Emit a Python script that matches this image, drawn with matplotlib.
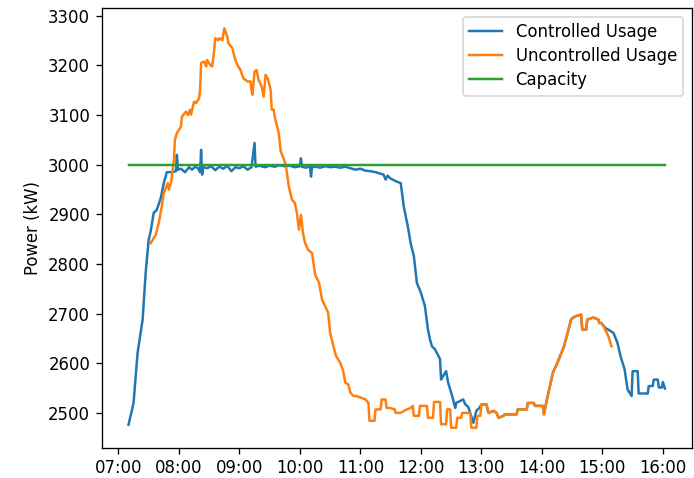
import matplotlib
matplotlib.use('Agg')
import matplotlib.pyplot as plt
import matplotlib.dates as mdates
import pandas as pd

# Controlled usage (kW)
ctrl_times = ['07:10', '07:15', '07:19', '07:24', '07:27', '07:30', '07:32', '07:35', '07:38',
              '07:42', '07:45', '07:48', '07:53', '07:57', '07:58', '07:59', '08:02', '08:06',
              '08:10', '08:13', '08:16', '08:19', '08:21', '08:22', '08:23', '08:24', '08:28',
              '08:32', '08:36', '08:40', '08:44', '08:48', '08:52', '08:56', '09:00', '09:04',
              '09:08', '09:12', '09:15', '09:16', '09:20', '09:25', '09:30', '09:35', '09:40',
              '09:45', '09:50', '09:55', '10:00', '10:01', '10:02', '10:06', '10:10', '10:11',
              '10:12', '10:16', '10:20', '10:25', '10:30', '10:35', '10:40', '10:45', '10:50',
              '10:55', '11:00', '11:05', '11:10', '11:15', '11:20', '11:23', '11:25', '11:27',
              '11:30', '11:36', '11:40', '11:43', '11:47', '11:50', '11:53', '11:56', '12:00',
              '12:04', '12:07', '12:09', '12:11', '12:14', '12:19', '12:20', '12:22', '12:25',
              '12:27', '12:31', '12:34', '12:35', '12:42', '12:44', '12:47', '12:52', '12:55',
              '12:58', '13:00', '13:05', '13:07', '13:12', '13:15', '13:17', '13:22', '13:23',
              '13:35', '13:36', '13:45', '13:46', '13:52', '13:53', '14:01', '14:02', '14:05',
              '14:08', '14:11', '14:16', '14:22', '14:26', '14:29', '14:31', '14:34', '14:39',
              '14:40', '14:44', '14:45', '14:51', '14:56', '14:57', '14:59', '15:03', '15:08',
              '15:11', '15:13', '15:15', '15:18', '15:22', '15:25', '15:29', '15:30', '15:35',
              '15:36', '15:45', '15:46', '15:50', '15:51', '15:55', '15:56', '15:59', '16:00',
              '16:02']
ctrl_kw = [2476, 2520, 2621, 2688, 2782, 2849, 2866, 2903, 2909,
           2933, 2963, 2985, 2985, 2987, 3020, 2990, 2992, 2985,
           2995, 2990, 2996, 2993, 2985, 3030, 2980, 2995, 2993,
           2997, 2989, 2996, 2992, 2998, 2987, 2995, 2993, 2997,
           2990, 2995, 3044, 2996, 2998, 2995, 2998, 2996, 2999,
           2997, 2998, 2995, 2997, 3013, 2996, 2994, 2997, 2976,
           2995, 2996, 2994, 2997, 2995, 2996, 2994, 2996, 2993,
           2990, 2992, 2988, 2987, 2985, 2982, 2980, 2970, 2978,
           2972, 2966, 2963, 2916, 2876, 2840, 2816, 2762, 2742,
           2715, 2668, 2648, 2634, 2628, 2608, 2567, 2574, 2584,
           2561, 2534, 2510, 2520, 2527, 2517, 2512, 2480, 2504,
           2510, 2517, 2517, 2500, 2504, 2500, 2490, 2494, 2497,
           2497, 2507, 2507, 2520, 2520, 2514, 2514, 2497, 2527,
           2554, 2581, 2604, 2634, 2665, 2688, 2692, 2695, 2698,
           2668, 2668, 2688, 2692, 2688, 2681, 2681, 2671, 2665,
           2661, 2651, 2641, 2614, 2588, 2547, 2534, 2584, 2584,
           2539, 2539, 2554, 2554, 2567, 2567, 2551, 2551, 2562,
           2549]

# Uncontrolled usage (kW)
unc_times = ['07:32', '07:37', '07:40', '07:43', '07:45', '07:49', '07:50', '07:52', '07:53',
             '07:55', '07:56', '07:58', '08:00', '08:02', '08:03', '08:07', '08:09', '08:11',
             '08:12', '08:15', '08:17', '08:20', '08:21', '08:22', '08:25', '08:27', '08:28',
             '08:31', '08:33', '08:35', '08:36', '08:39', '08:40', '08:43', '08:45', '08:48',
             '08:49', '08:53', '08:56', '08:58', '09:01', '09:04', '09:08', '09:11', '09:12',
             '09:13', '09:15', '09:17', '09:19', '09:22', '09:24', '09:26', '09:28', '09:31',
             '09:32', '09:34', '09:35', '09:37', '09:39', '09:41', '09:43', '09:46', '09:49',
             '09:52', '09:55', '09:57', '09:59', '10:01', '10:03', '10:05', '10:08', '10:12',
             '10:14', '10:15', '10:19', '10:22', '10:25', '10:28', '10:30', '10:34', '10:36',
             '10:40', '10:43', '10:45', '10:48', '10:50', '10:53', '10:56', '11:01', '11:05',
             '11:08', '11:09', '11:14', '11:15', '11:20', '11:21', '11:25', '11:26', '11:29',
             '11:34', '11:35', '11:40', '11:46', '11:50', '11:52', '11:53', '11:58', '11:59',
             '12:06', '12:07', '12:12', '12:13', '12:19', '12:20', '12:25', '12:26', '12:29',
             '12:30', '12:35', '12:36', '12:40', '12:41', '12:49', '12:50', '12:55', '12:56',
             '12:59', '13:00', '13:05', '13:07', '13:12', '13:15', '13:17', '13:22', '13:23',
             '13:35', '13:36', '13:45', '13:46', '13:52', '13:53', '14:01', '14:02', '14:05',
             '14:08', '14:11', '14:16', '14:22', '14:26', '14:29', '14:31', '14:34', '14:39',
             '14:40', '14:44', '14:45', '14:51', '14:56', '14:57', '14:59', '15:02', '15:06',
             '15:09']
unc_kw = [2842, 2859, 2883, 2916, 2943, 2963, 2950, 2963, 2977,
          3010, 3050, 3064, 3070, 3077, 3097, 3107, 3100, 3111,
          3101, 3127, 3124, 3134, 3151, 3205, 3208, 3198, 3211,
          3201, 3198, 3231, 3255, 3251, 3255, 3251, 3275, 3258,
          3245, 3235, 3211, 3201, 3191, 3174, 3168, 3168, 3151,
          3141, 3188, 3191, 3171, 3158, 3137, 3181, 3174, 3151,
          3111, 3111, 3097, 3080, 3064, 3027, 3017, 3000, 2956,
          2930, 2923, 2903, 2869, 2899, 2863, 2843, 2829, 2822,
          2795, 2779, 2762, 2728, 2715, 2702, 2661, 2628, 2614,
          2601, 2584, 2561, 2557, 2541, 2534, 2534, 2530, 2527,
          2520, 2484, 2484, 2507, 2507, 2527, 2527, 2510, 2510,
          2507, 2500, 2500, 2507, 2510, 2514, 2494, 2494, 2514,
          2514, 2490, 2490, 2522, 2522, 2477, 2477, 2507, 2507,
          2470, 2470, 2490, 2490, 2500, 2500, 2470, 2470, 2494,
          2494, 2517, 2517, 2500, 2504, 2500, 2490, 2494, 2497,
          2497, 2507, 2507, 2520, 2520, 2514, 2514, 2497, 2527,
          2554, 2581, 2604, 2634, 2665, 2688, 2692, 2695, 2698,
          2668, 2668, 2688, 2692, 2688, 2681, 2681, 2671, 2654,
          2634]

capacity_kw = 3000
cap_times = ['07:10', '16:02']


def to_dt(times):
    return pd.to_datetime(['2020-01-01 ' + t for t in times])


dpi = 119
fig = plt.figure(figsize=(694 / dpi, 478 / dpi), dpi=dpi)
ax = fig.add_axes([101.7 / 694, 1 - 447.7 / 478, 590 / 694, 439.4 / 478])

ax.plot(to_dt(ctrl_times), ctrl_kw, label='Controlled Usage')
ax.plot(to_dt(unc_times), unc_kw, label='Uncontrolled Usage')
ax.plot(to_dt(cap_times), [capacity_kw] * len(cap_times), label='Capacity')

ax.xaxis.set_major_locator(mdates.HourLocator())
ax.xaxis.set_major_formatter(mdates.DateFormatter('%H:%M'))
ax.set_ylabel('Power (kW)')
ax.legend(loc='upper right', labelspacing=0.36)

fig.savefig('out.png', dpi=dpi)
